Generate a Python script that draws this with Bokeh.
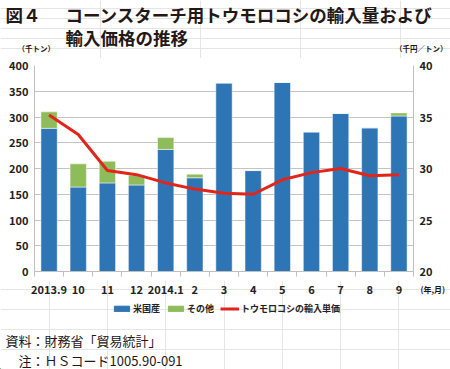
from bokeh.plotting import figure
from bokeh.layouts import column
from bokeh.models import (Range1d, LinearAxis, FixedTicker, Label, Legend, LegendItem,
                          ColumnDataSource)
from bokeh.core.properties import value
from bokeh.embed import file_html
from bokeh.resources import INLINE

categories = ["2013.9", "10", "11", "12", "2014.1", "2", "3", "4", "5", "6", "7", "8", "9"]
us_corn = [278, 164, 172, 168, 237, 182, 366, 196, 367, 271, 307, 279, 302]
other_corn = [32, 45, 42, 19, 23, 7, 0, 0, 0, 0, 0, 0, 6]
unit_price = [35.2, 33.3, 29.8, 29.4, 28.6, 28.0, 27.6, 27.5, 28.9, 29.6, 30.0, 29.3, 29.4]
left_ticks = [0, 50, 100, 150, 200, 250, 300, 350, 400]
right_ticks = [20, 25, 30, 35, 40]

FONT = "Noto Sans CJK JP"
BLUE = "#2E75B6"
GREEN = "#8FBC5A"
RED = "#E1251B"
TXT = "#231815"

W = 450
T_H = 58                      # title strip
FL, FR = 34, 413              # chart frame left/right on canvas
B_TOP, B_FRAME, B_BOT = 7, 206, 9
B_H = B_TOP + B_FRAME + B_BOT
C_TOP = T_H + B_H
C_H = 369 - C_TOP              # bottom strip (tick labels, legend, notes)

xs = list(range(len(categories)))
src = ColumnDataSource(dict(x=xs, us=us_corn, other=other_corn, price=unit_price,
                            cat=categories))


def no_align(f):
    try:
        f.frame_align = False
    except AttributeError:
        pass
    return f


def blank(h):
    f = figure(width=W, height=h, output_backend="svg", toolbar_location=None,
               x_axis_location=None, y_axis_location=None, min_border=0,
               x_range=Range1d(0, W), y_range=Range1d(0, h))
    f.outline_line_color = None
    f.border_fill_color = "white"
    f.background_fill_color = "white"
    return no_align(f)


def lab(f, text, x, y_from_top, h, size, bold=True, align="left"):
    f.add_layout(Label(x=x, y=h - y_from_top, x_units="screen", y_units="screen", text=text,
                       text_font=FONT, text_font_size=size,
                       text_font_style="bold" if bold else "normal",
                       text_baseline="middle", text_align=align, text_color=TXT))


# ---- title strip
t = blank(T_H)
lab(t, "図４", 5, 14, T_H, "17.5px")
lab(t, "コーンスターチ用トウモロコシの輸入量および", 65, 14, T_H, "17.5px")
lab(t, "輸入価格の推移", 65, 37, T_H, "17.5px")
lab(t, "（千トン）", 17, 48, T_H, "7.5px")
lab(t, "（千円／トン）", 447, 48, T_H, "7.5px", align="right")

# ---- main chart
p = figure(width=W, height=B_H, output_backend="svg", toolbar_location=None,
           x_range=Range1d(-0.5, len(categories) - 0.5), y_range=Range1d(0, 400),
           min_border_left=FL, min_border_right=W - FR, min_border_top=B_TOP,
           min_border_bottom=B_BOT)
no_align(p)
p.outline_line_color = None
p.background_fill_color = "white"
p.border_fill_color = "white"

r_bars = p.vbar_stack(["us", "other"], x="x", width=0.56, source=src,
                      color=[BLUE, GREEN], line_color="white", line_width=0.5)
p.extra_y_ranges = {"price": Range1d(20, 40)}
p.line("x", "price", source=src, y_range_name="price", line_color=RED, line_width=3)

p.yaxis.ticker = FixedTicker(ticks=left_ticks)
right_axis = LinearAxis(y_range_name="price", ticker=FixedTicker(ticks=right_ticks))
p.add_layout(right_axis, "right")
for ax in [p.yaxis[0], right_axis]:
    ax.axis_line_color = "#bfbfbf"
    ax.major_tick_line_color = None
    ax.minor_tick_line_color = None
    ax.major_tick_out = 0
    ax.major_tick_in = 0
    ax.major_label_standoff = 6
    ax.major_label_text_font = FONT
    ax.major_label_text_font_style = "bold"
    ax.major_label_text_font_size = "11px"
    ax.major_label_text_color = "#222222"

xa = p.xaxis[0]
xa.ticker = FixedTicker(ticks=[], minor_ticks=[x - 0.5 for x in xs] + [len(xs) - 0.5])
xa.axis_line_color = "#bfbfbf"
xa.major_tick_line_color = None
xa.major_tick_out = 0
xa.major_tick_in = 0
xa.major_label_standoff = 0
xa.major_label_text_font_size = "0px"
xa.minor_tick_line_color = "#bfbfbf"
xa.minor_tick_out = 5
xa.minor_tick_in = 0

p.xgrid.grid_line_color = None
p.ygrid.grid_line_color = "#c4c4c4"
p.ygrid.ticker = FixedTicker(ticks=left_ticks)

# ---- bottom strip: category labels, legend, notes
s = (FR - FL) / len(categories)
x0 = -0.5 - FL / s
c = figure(width=W, height=C_H, output_backend="svg", toolbar_location=None,
           x_axis_location=None, y_axis_location=None, min_border=0,
           x_range=Range1d(x0, x0 + W / s), y_range=Range1d(0, C_H))
no_align(c)
c.outline_line_color = None
c.border_fill_color = "white"
c.background_fill_color = "white"

c.text(x="x", y=C_H - (289 - C_TOP), text="cat", source=src, text_font=value(FONT),
       text_font_style="bold", text_font_size="11px", text_align="center",
       text_baseline="middle", text_color="#222222")
lab(c, "(年,月)", 420, 289 - C_TOP, C_H, "8px")

# legend proxies, placed outside the visible range (clipped away)
g_us = c.vbar(x=[x0 - 5], top=[1], width=0.5, color=BLUE)
g_ot = c.vbar(x=[x0 - 5], top=[1], width=0.5, color=GREEN)
g_ln = c.line(x=[x0 - 6, x0 - 5], y=[1, 1], line_color=RED, line_width=3)
legend = Legend(items=[LegendItem(label="米国産", renderers=[g_us]),
                       LegendItem(label="その他", renderers=[g_ot]),
                       LegendItem(label="トウモロコシの輸入単価", renderers=[g_ln])],
                orientation="horizontal", location=(112, C_H - (315 - C_TOP)),
                glyph_width=19, glyph_height=7, label_height=10, label_standoff=2,
                spacing=6, padding=0, margin=0, border_line_color=None,
                background_fill_alpha=0,
                label_text_font=FONT, label_text_font_style="bold",
                label_text_font_size="9px", label_text_color="#222222")
c.add_layout(legend, "center")

lab(c, "資料：財務省「貿易統計」", 5, 340 - C_TOP, C_H, "13px", bold=False)
lab(c, "注：ＨＳコード1005.90-091", 18, 360 - C_TOP, C_H, "13px", bold=False)

layout = column(t, p, c, spacing=0)
open("out.html", "w").write(file_html(layout, INLINE))
